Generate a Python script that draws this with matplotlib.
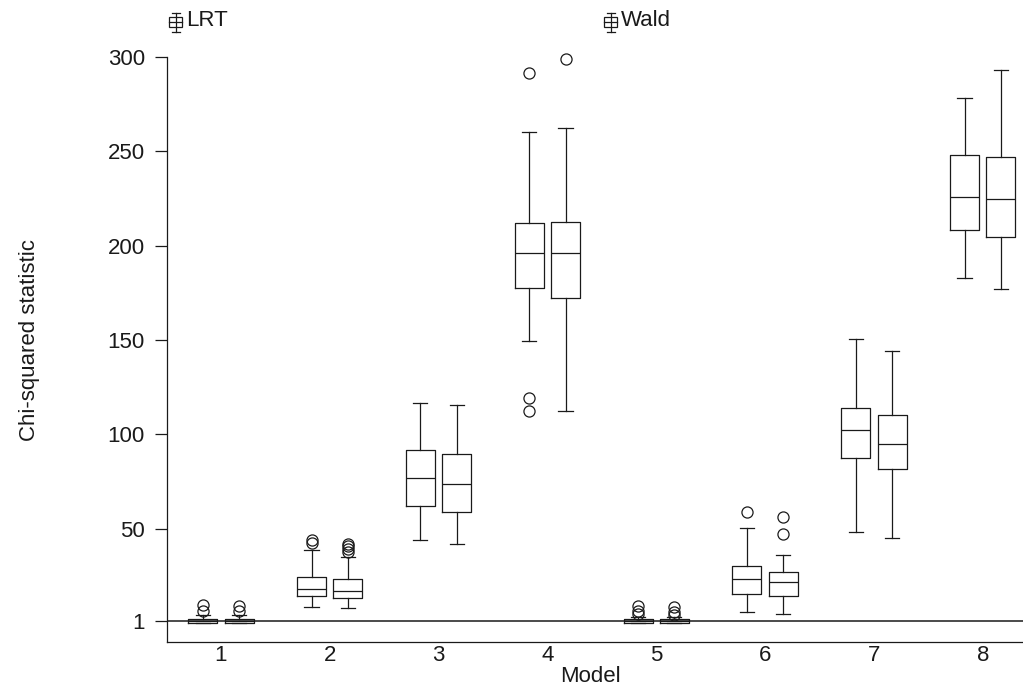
import matplotlib
matplotlib.use("Agg")
import matplotlib.pyplot as plt
from matplotlib.lines import Line2D
from matplotlib.patches import Rectangle

plt.rcParams['font.family'] = ['Liberation Sans', 'DejaVu Sans']

models = [1, 2, 3, 4, 5, 6, 7, 8]
series = ["LRT", "Wald"]

# five-number summaries per model: whislo, q1, med, q3, whishi
lrt_whislo = [0.0, 8.6, 43.9, 149.5, 0.0, 5.6, 48.3, 183.0]
lrt_q1     = [0.2, 14.3, 62.2, 177.8, 0.2, 15.5, 87.2, 208.2]
lrt_med    = [0.8, 18.0, 76.7, 196.3, 0.8, 23.3, 102.2, 225.7]
lrt_q3     = [1.8, 24.5, 91.7, 212.0, 1.8, 30.3, 113.9, 248.1]
lrt_whishi = [4.2, 38.6, 116.4, 260.1, 3.0, 50.1, 150.7, 278.5]
lrt_fliers = [[6.5, 9.5], [42.4, 44.0], [], [112.3, 119.0, 291.7],
              [4.5, 6.5, 9.0], [58.9], [], []]

wald_whislo = [0.0, 8.1, 41.8, 112.3, 0.0, 4.9, 45.0, 177.2]
wald_q1     = [0.2, 13.4, 59.0, 172.5, 0.2, 14.3, 81.7, 204.6]
wald_med    = [0.8, 17.1, 73.5, 196.3, 0.8, 21.5, 95.0, 224.6]
wald_q3     = [1.8, 23.1, 89.4, 212.7, 1.8, 26.8, 110.2, 247.0]
wald_whishi = [4.2, 35.1, 115.5, 262.1, 3.0, 36.0, 144.3, 293.0]
wald_fliers = [[6.5, 9.0], [37.5, 39.0, 40.5, 42.0], [], [299.0],
               [4.0, 6.0, 8.5], [47.0, 56.0], [], []]

yticks = [1, 50, 100, 150, 200, 250, 300]

W, H = 1023, 690
fig = plt.figure(figsize=(W / 100, H / 100), dpi=100)
ax = fig.add_axes([167 / W, 1 - 642 / H, 1 - 167 / W, (642 - 57) / H])

col = '#1a1a1a'
lw = 0.9
fs = 16


def stats(wl, q1, md, q3, wh, fl):
    return [dict(whislo=a, q1=b, med=c, q3=d, whishi=e, fliers=f)
            for a, b, c, d, e, f in zip(wl, q1, md, q3, wh, fl)]


off = 0.167
bw = 0.266
common = dict(widths=bw, capwidths=0.13, showfliers=True, patch_artist=False,
              boxprops=dict(color=col, lw=lw),
              whiskerprops=dict(color=col, lw=lw),
              capprops=dict(color=col, lw=lw),
              medianprops=dict(color=col, lw=lw),
              flierprops=dict(marker='o', markersize=8, markerfacecolor='none',
                              markeredgecolor=col, markeredgewidth=0.9))

ax.axhline(1, color=col, lw=1.1, zorder=1)
res1 = ax.bxp(stats(lrt_whislo, lrt_q1, lrt_med, lrt_q3, lrt_whishi, lrt_fliers),
              positions=[m - off for m in models], **common)
res2 = ax.bxp(stats(wald_whislo, wald_q1, wald_med, wald_q3, wald_whishi, wald_fliers),
              positions=[m + off for m in models], **common)
for res in (res1, res2):
    for k in res:
        for a in res[k]:
            a.set_clip_on(False)

ax.set_xlim(0.505, 8.37)
ax.set_ylim(-10.13, 300)
ax.set_xticks(models)
ax.set_xticklabels([str(m) for m in models])
ax.set_yticks(yticks)
ax.set_yticklabels([str(t) for t in yticks])
ax.tick_params(axis='x', length=0, pad=2.5, labelsize=fs, colors=col)
ax.tick_params(axis='y', length=9, width=0.9, pad=7, labelsize=fs, colors=col)
for s in ('top', 'right'):
    ax.spines[s].set_visible(False)
for s in ('left', 'bottom'):
    ax.spines[s].set_linewidth(0.9)
    ax.spines[s].set_color(col)

fig.text(590 / W, 1 - 677 / H, "Model", fontsize=fs, ha='center', va='center', color=col)
fig.text(30 / W, 1 - 340 / H, "Chi-squared statistic", fontsize=fs, ha='center',
         va='center', rotation=90, color=col)


def icon(x0, yc):
    # small boxplot glyph in figure pixel coords
    def fx(x):
        return x / W

    def fy(y):
        return 1 - y / H
    xc = x0 + 6.5
    fig.add_artist(Line2D([fx(xc), fx(xc)], [fy(yc - 9.5), fy(yc + 9.5)], color=col, lw=0.9))
    for yy in (yc - 9.5, yc + 9.5):
        fig.add_artist(Line2D([fx(xc - 4), fx(xc + 4)], [fy(yy), fy(yy)], color=col, lw=0.9))
    fig.add_artist(Rectangle((fx(x0), fy(yc + 5)), 13 / W, 10 / H, facecolor='white',
                             edgecolor=col, lw=0.9, transform=fig.transFigure))
    fig.add_artist(Line2D([fx(x0), fx(x0 + 13)], [fy(yc), fy(yc)], color=col, lw=0.9))


icon(169, 22)
fig.text(186 / W, 1 - 21 / H, series[0], fontsize=fs, va='center', ha='left', color=col)
icon(604, 22)
fig.text(621 / W, 1 - 21 / H, series[1], fontsize=fs, va='center', ha='left', color=col)

fig.savefig("out.png", dpi=100)
